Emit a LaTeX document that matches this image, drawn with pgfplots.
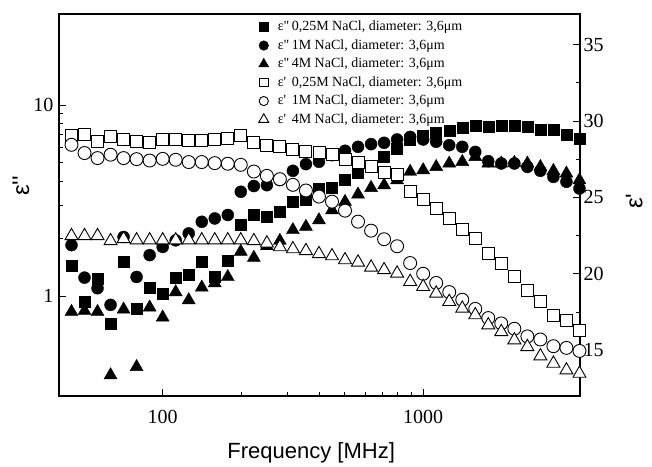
\documentclass[border=0pt]{standalone}
\usepackage{fontspec}
\setmainfont{Liberation Serif}
\newfontfamily\tnr{Liberation Serif}
\newfontfamily\arial{Liberation Sans}
\usepackage{pgfplots}
\usepackage{pgfplotstable}
\pgfplotsset{compat=1.18}

% eps'' (loss), columns: 0.25M, 1M, 4M NaCl
\pgfplotstableread{
f     sq    ci    tr
39.81 0.91  0.78  0.705
44.67 1.45  1.85  0.828
50.12 0.94  1.25  0.838
56.23 1.24  1.10  0.828
63.10 0.72  0.90  0.386
70.79 1.52  2.04  0.852
79.43 0.86  1.26  0.426
89.13 1.11  1.64  0.873
100.0 1.03  1.81  0.774
112.2 1.25  1.96  1.05
125.9 1.30  2.13  0.953
141.3 1.51  2.45  1.11
158.5 1.26  2.55  1.17
177.8 1.54  2.66  1.26
199.5 2.38  3.52  1.71
223.9 2.68  3.77  1.59
251.2 2.60  3.81  1.83
281.8 2.76  4.05  1.95
316.2 3.12  4.53  2.22
354.8 3.18  4.91  2.31
398.1 3.66  5.05  2.50
446.7 3.71  5.47  2.82
501.2 4.05  5.77  3.12
562.3 4.44  6.05  3.41
631.0 4.81  6.25  3.69
707.9 5.36  6.35  3.81
794.3 5.93  6.61  4.05
891.3 6.56  6.82  4.48
1000  6.88  6.61  4.57
1122  7.13  6.43  4.75
1259  7.31  6.17  4.95
1413  7.58  6.05  5.05
1585  7.77  5.69  5.36
1778  7.70  5.09  4.95
1995  7.79  4.95  4.95
2239  7.77  4.95  4.99
2512  7.70  4.75  4.95
2818  7.46  4.53  4.75
3162  7.46  4.21  4.53
3548  6.96  3.97  4.39
3981  6.69  3.66  4.05
}\epss

% eps' (permittivity)
\pgfplotstableread{
f     sq     ci     tr
39.81 28.99  27.90  22.48
44.67 29.03  28.44  22.48
50.12 29.10  27.90  22.48
56.23 28.66  27.57  22.48
63.10 28.99  27.79  22.15
70.79 28.82  27.57  22.28
79.43 28.66  27.50  22.20
89.13 28.59  27.41  22.20
100.0 28.77  27.52  22.20
112.2 28.77  27.46  22.20
125.9 28.70  27.31  22.20
141.3 28.70  27.31  22.20
158.5 28.82  27.24  22.20
177.8 28.88  27.20  22.20
199.5 29.03  27.13  22.20
223.9 28.59  26.69  22.15
251.2 28.38  26.41  22.00
281.8 28.33  26.19  21.75
316.2 28.11  25.82  21.62
354.8 28.00  25.45  21.50
398.1 27.94  25.05  21.30
446.7 27.79  24.72  21.16
501.2 27.50  24.13  20.90
562.3 27.31  23.41  20.75
631.0 27.02  22.82  20.42
707.9 26.63  22.26  20.25
794.3 26.50  21.80  20.03
891.3 25.38  20.70  19.48
1000  24.84  20.00  19.15
1122  24.29  19.40  18.72
1259  23.64  18.80  18.17
1413  22.91  18.30  17.73
1585  22.30  17.70  17.30
1778  21.30  17.10  16.64
1995  20.69  16.75  16.20
2239  19.85  16.40  15.66
2512  18.93  15.90  15.22
2818  18.21  15.70  14.61
3162  17.30  15.26  14.13
3548  16.92  15.15  13.69
3981  16.27  14.95  13.47
}\eps

\pgfplotsset{
  every axis/.append style={
    scale only axis, width=521pt, height=382pt,
    at={(0pt,0pt)}, anchor=south west,
    xmin=40, xmax=4000,
    tick align=inside,
    major tick length=7pt, minor tick length=4pt,
    tick style={black, line width=0.9pt},
    axis line style={line width=1.2pt},
    ticklabel style={font=\tnr\fontsize{20}{24}\selectfont},
  },
}

\begin{document}
\begin{tikzpicture}
\useasboundingbox (-59pt,-70pt) rectangle (593pt,396pt);

\begin{axis}[
    xmode=log, ymode=log, ymin=0.3, ymax=30,
    xtick={100,1000}, xticklabels={100,1000},
    ytick={1,10}, yticklabels={1,10},
    xtick pos=bottom, ytick pos=left,
    xticklabel style={yshift=-11pt},
    yticklabel style={xshift=-2pt},
    xlabel={Frequency [MHz]},
    xlabel style={font=\arial\fontsize{22}{26}\selectfont, at={(axis description cs:0.484,-0.148)}, anchor=center},
    ylabel={ε''},
    ylabel style={font=\arial\fontsize{24}{28}\selectfont, at={(axis description cs:-0.073,0.55)}, anchor=center},
]
\addplot[only marks, mark=square*, mark size=5.5pt, black] table[x=f,y=sq] {\epss};
\addplot[only marks, mark=*, mark size=6pt, black] table[x=f,y=ci] {\epss};
\addplot[only marks, mark=triangle*, mark size=7.5pt, black] table[x=f,y=tr] {\epss};
\end{axis}

\begin{axis}[
    xmode=log, ymin=12, ymax=37,
    axis x line=none, axis y line*=right,
    ytick={15,20,25,30,35}, yticklabels={15,20,25,30,35},
    minor y tick num=1,
    ylabel={ε'},
    ylabel style={font=\arial\fontsize{24}{28}\selectfont, at={(axis description cs:1.104,0.51)}, anchor=center},
    legend style={draw=none, fill=none, inner sep=0pt,
        at={(axis description cs:0.383,0.986)}, anchor=north west,
        font=\tnr\fontsize{14}{16}\selectfont,
        row sep=3.5pt,
        nodes={inner sep=1pt, text height=10pt, text depth=3pt},
        /tikz/every odd column/.append style={column sep=8pt}},
    legend cell align=left,
]
\addlegendimage{only marks, mark=square*, mark size=4.5pt, black}
\addlegendentry{\makebox[1.0em][l]{ε"}0,25M NaCl, diameter: 3,6μm}
\addlegendimage{only marks, mark=*, mark size=4.8pt, black}
\addlegendentry{\makebox[1.0em][l]{ε"}1M NaCl, diameter: 3,6μm}
\addlegendimage{only marks, mark=triangle*, mark size=5.8pt, black}
\addlegendentry{\makebox[1.0em][l]{ε"}4M NaCl, diameter: 3,6μm}

\addplot[only marks, mark=square*, mark size=6pt, black, line width=0.9pt, mark options={fill=white},
    legend image post style={mark size=4.2pt}] table[x=f,y=sq] {\eps};
\addlegendentry{\makebox[1.0em][l]{ε'}0,25M NaCl, diameter: 3,6μm}
\addplot[only marks, mark=*, mark size=6.5pt, black, line width=0.9pt, mark options={fill=white},
    legend image post style={mark size=4.6pt}] table[x=f,y=ci] {\eps};
\addlegendentry{\makebox[1.0em][l]{ε'}1M NaCl, diameter: 3,6μm}
\addplot[only marks, mark=triangle*, mark size=7.5pt, black, line width=0.9pt, mark options={fill=white},
    legend image post style={mark size=5.8pt}] table[x=f,y=tr] {\eps};
\addlegendentry{\makebox[1.0em][l]{ε'}4M NaCl, diameter: 3,6μm}
\end{axis}
\end{tikzpicture}
\end{document}
